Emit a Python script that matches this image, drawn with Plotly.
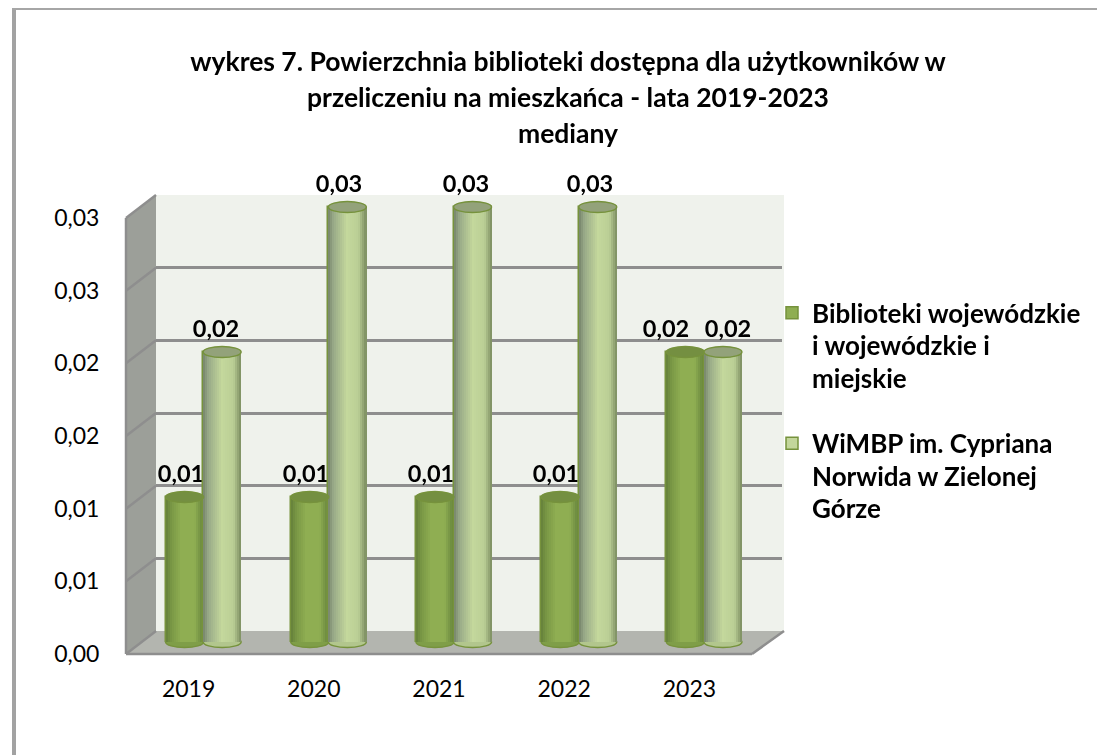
import plotly.graph_objects as go

W, H = 1097, 755

# ---- data ----
years = [2019, 2020, 2021, 2022, 2023]
series_a_name = "Biblioteki wojewódzkie<br>i wojewódzkie i<br>miejskie"
series_b_name = "WiMBP im. Cypriana<br>Norwida w Zielonej<br>Górze"
series_a = [0.01, 0.01, 0.01, 0.01, 0.02]
series_b = [0.02, 0.03, 0.03, 0.03, 0.02]
y_ticks = [0.0, 0.005, 0.01, 0.015, 0.02, 0.025, 0.03]
y_tick_labels = ["0,00", "0,01", "0,01", "0,02", "0,02", "0,03", "0,03"]
title_lines = [
    "wykres 7. Powierzchnia biblioteki dostępna dla użytkowników w",
    "przeliczeniu na mieszkańca - lata 2019-2023",
    "mediany",
]

FONT = "Lato"
OUTLINE = "#76923C"
GRID = "#8E8E8E"
STOPS_A = [(0, "#64803A"), (0.15, "#7A9845"), (0.4, "#8FAE52"), (0.75, "#8FAE52"), (1, "#62803A")]
STOPS_B = [(0, "#76846A"), (0.14, "#98A988"), (0.5, "#C4D89C"), (0.8, "#BACE95"), (1, "#7B8C60")]
LABEL_SHIFT_A = [-4, -4, -4, -4, -19]
LABEL_SHIFT_B = [-6, -8, -7, -8, 5]


def fx(p):
    return p / W


def fy(p):
    return 1 - p / H


def mix(stops, t):
    for (t0, c0), (t1, c1) in zip(stops, stops[1:]):
        if t <= t1:
            k = (t - t0) / (t1 - t0)
            a = [int(c0[i:i + 2], 16) for i in (1, 3, 5)]
            b = [int(c1[i:i + 2], 16) for i in (1, 3, 5)]
            return "rgb(%d,%d,%d)" % tuple(round(u + (v - u) * k) for u, v in zip(a, b))
    return stops[-1][1]


BAR_W = 0.304
OFFS = {"a": -0.152, "b": 0.148}
N_STRIPS = 19
LABEL_LIFT = 0.0005
PX_X = 626 / 5

fig = go.Figure()

# anchors so the back and front planes are drawn
fig.add_trace(go.Scatter(x=years, y=series_b, xaxis="x", yaxis="y", mode="markers", opacity=0,
                         showlegend=False, hoverinfo="skip"))
fig.add_trace(go.Scatter(x=years, y=series_a, xaxis="x2", yaxis="y2", mode="markers", opacity=0,
                         showlegend=False, hoverinfo="skip"))


def add_series(vals, name, fill, stops, off, shifts):
    labels = [f"{v:.2f}".replace(".", ",") for v in vals]
    left = off - BAR_W / 2
    fig.add_trace(go.Bar(
        x=years, y=vals, base=LABEL_LIFT, width=BAR_W, offset=[left + s / PX_X for s in shifts],
        xaxis="x3", yaxis="y3", showlegend=False, hoverinfo="skip",
        marker=dict(color="rgba(0,0,0,0)", line=dict(width=0)),
        text=labels, textposition="outside", cliponaxis=False, constraintext="none",
        textangle=0, textfont=dict(family=FONT, size=23.5, color="black", weight="bold"),
    ))
    fig.add_trace(go.Bar(
        x=years, y=vals, width=BAR_W, offset=left,
        name=f'<span style="font-size:26px"><b>{name}</b></span>', legendgroup=name,
        xaxis="x3", yaxis="y3",
        marker=dict(color=fill, line=dict(color=OUTLINE, width=1.5)),
    ))
    sw = BAR_W / N_STRIPS
    for i in range(N_STRIPS):
        fig.add_trace(go.Bar(
            x=years, y=vals, width=sw + 0.002, offset=left + i * sw,
            xaxis="x3", yaxis="y3", showlegend=False, hoverinfo="skip",
            marker=dict(color=mix(stops, (i + 0.5) / N_STRIPS), line=dict(width=0)),
        ))


add_series(series_a, series_a_name, "#8FAE52", STOPS_A, OFFS["a"], LABEL_SHIFT_A)
add_series(series_b, series_b_name, "#C3D69B", STOPS_B, OFFS["b"], LABEL_SHIFT_B)

# ---- walls, floor, frame ----
shapes = []


def poly(pts, color):
    path = "M" + " L".join(f"{fx(x):.5f},{fy(y):.5f}" for x, y in pts) + " Z"
    return dict(type="path", xref="paper", yref="paper", path=path, fillcolor=color,
                line=dict(width=0), layer="below")


def seg(x0, y0, x1, y1, color=GRID, width=2.5):
    return dict(type="line", xref="paper", yref="paper", x0=fx(x0), y0=fy(y0), x1=fx(x1), y1=fy(y1),
                line=dict(color=color, width=width), layer="below")


shapes.append(poly([(12, 8), (16, 8), (16, 755), (12, 755)], "#A2A2A2"))
shapes.append(poly([(12, 8), (1097, 8), (1097, 10), (12, 10)], "#A6A6A6"))
shapes.append(poly([(156, 195), (784, 195), (784, 631), (156, 631)], "#EFF2EC"))
shapes.append(poly([(126, 218), (156, 195), (156, 631), (126, 654)], "#9C9F99"))
shapes.append(poly([(126, 654), (156, 631), (784, 631), (752, 654)], "#B3B5AF"))
PX_PER = 436 / 0.03
for t in y_ticks:
    shapes.append(seg(126, 654 - t * PX_PER, 156, 631 - t * PX_PER))
shapes.append(seg(784, 631, 752, 654))
shapes.append(seg(126, 218, 126, 654))
shapes.append(seg(126, 654, 752, 654))


def cap(x, y, off, fill, line_color, layer):
    return dict(type="circle", xref="x3", yref="y3", xsizemode="pixel", ysizemode="pixel",
                xanchor=x + off, yanchor=y, x0=-19, x1=19, y0=-5.5, y1=5.5,
                fillcolor=fill, line=dict(color=line_color, width=1.5), layer=layer)


for vals, off, base_fill, top_fill in (
    (series_a, OFFS["a"], "#7F9E48", "#748F41"),
    (series_b, OFFS["b"], "#B2C68D", "#93A27A"),
):
    for x, v in zip(years, vals):
        shapes.append(cap(x, 0, off, base_fill, OUTLINE, "below"))
    for x, v in zip(years, vals):
        shapes.append(cap(x, v, off, top_fill, OUTLINE, "above"))

title_text = "<br>".join(f'<span style="font-size:26.5px"><b>{t}</b></span>' for t in title_lines)

x_rng = [2018.5, 2023.5]
PX3 = 435 / 0.03
Y3_MIN, Y3_MAX = -0.001, 0.032
fig.update_layout(
    template="none",
    width=W, height=H, margin=dict(l=0, r=0, t=0, b=0, autoexpand=False), autosize=False,
    paper_bgcolor="white", plot_bgcolor="rgba(0,0,0,0)",
    barmode="overlay", bargap=0, separators=", ",
    font=dict(family=FONT, color="black", size=20),
    title=dict(text=title_text, font=dict(family=FONT, size=27.5, color="black"),
               x=fx(568), xanchor="center", y=fy(71), yanchor="top", yref="paper"),
    shapes=shapes,
    legend=dict(x=fx(772), xanchor="left", y=fy(290), yanchor="top", valign="top",
                font=dict(family=FONT, size=25, color="black"), bgcolor="rgba(0,0,0,0)",
                tracegroupgap=30, itemclick=False, itemdoubleclick=False, itemwidth=30,
                traceorder="grouped"),
    # back plane: gridlines
    xaxis=dict(domain=[fx(156), fx(782)], range=x_rng, visible=False, anchor="y", automargin=False),
    yaxis=dict(domain=[fy(631), fy(195)], range=[0, 0.03], anchor="x", tickvals=y_ticks,
               showgrid=True, gridcolor=GRID, gridwidth=2.5, showticklabels=False, ticks="",
               zeroline=False, showline=False, automargin=False),
    # front plane: tick labels
    xaxis2=dict(domain=[fx(126), fx(752)], range=x_rng, anchor="y2", tickvals=years,
                ticktext=[str(y) for y in years], showgrid=False, zeroline=False, showline=False,
                ticks="outside", ticklen=14, tickcolor="rgba(0,0,0,0)", automargin=False,
                tickfont=dict(family=FONT, size=23, color="black")),
    yaxis2=dict(domain=[fy(654), fy(218)], range=[0, 0.03], anchor="x2", tickvals=y_ticks,
                ticktext=y_tick_labels, showgrid=False, zeroline=False, showline=False,
                ticks="outside", ticklen=21, tickcolor="rgba(0,0,0,0)", automargin=False,
                tickfont=dict(family=FONT, size=23, color="black")),
    # middle plane: cylinders
    xaxis3=dict(domain=[fx(141), fx(767)], range=x_rng, visible=False, anchor="y3", automargin=False),
    yaxis3=dict(domain=[fy(642 - Y3_MIN * PX3), fy(642 - Y3_MAX * PX3)], range=[Y3_MIN, Y3_MAX],
                visible=False, anchor="x3", automargin=False),
)

fig.write_html("out.html", config=dict(displayModeBar=False),
               post_script="document.body.style.margin='0';document.body.style.overflow='hidden';")
